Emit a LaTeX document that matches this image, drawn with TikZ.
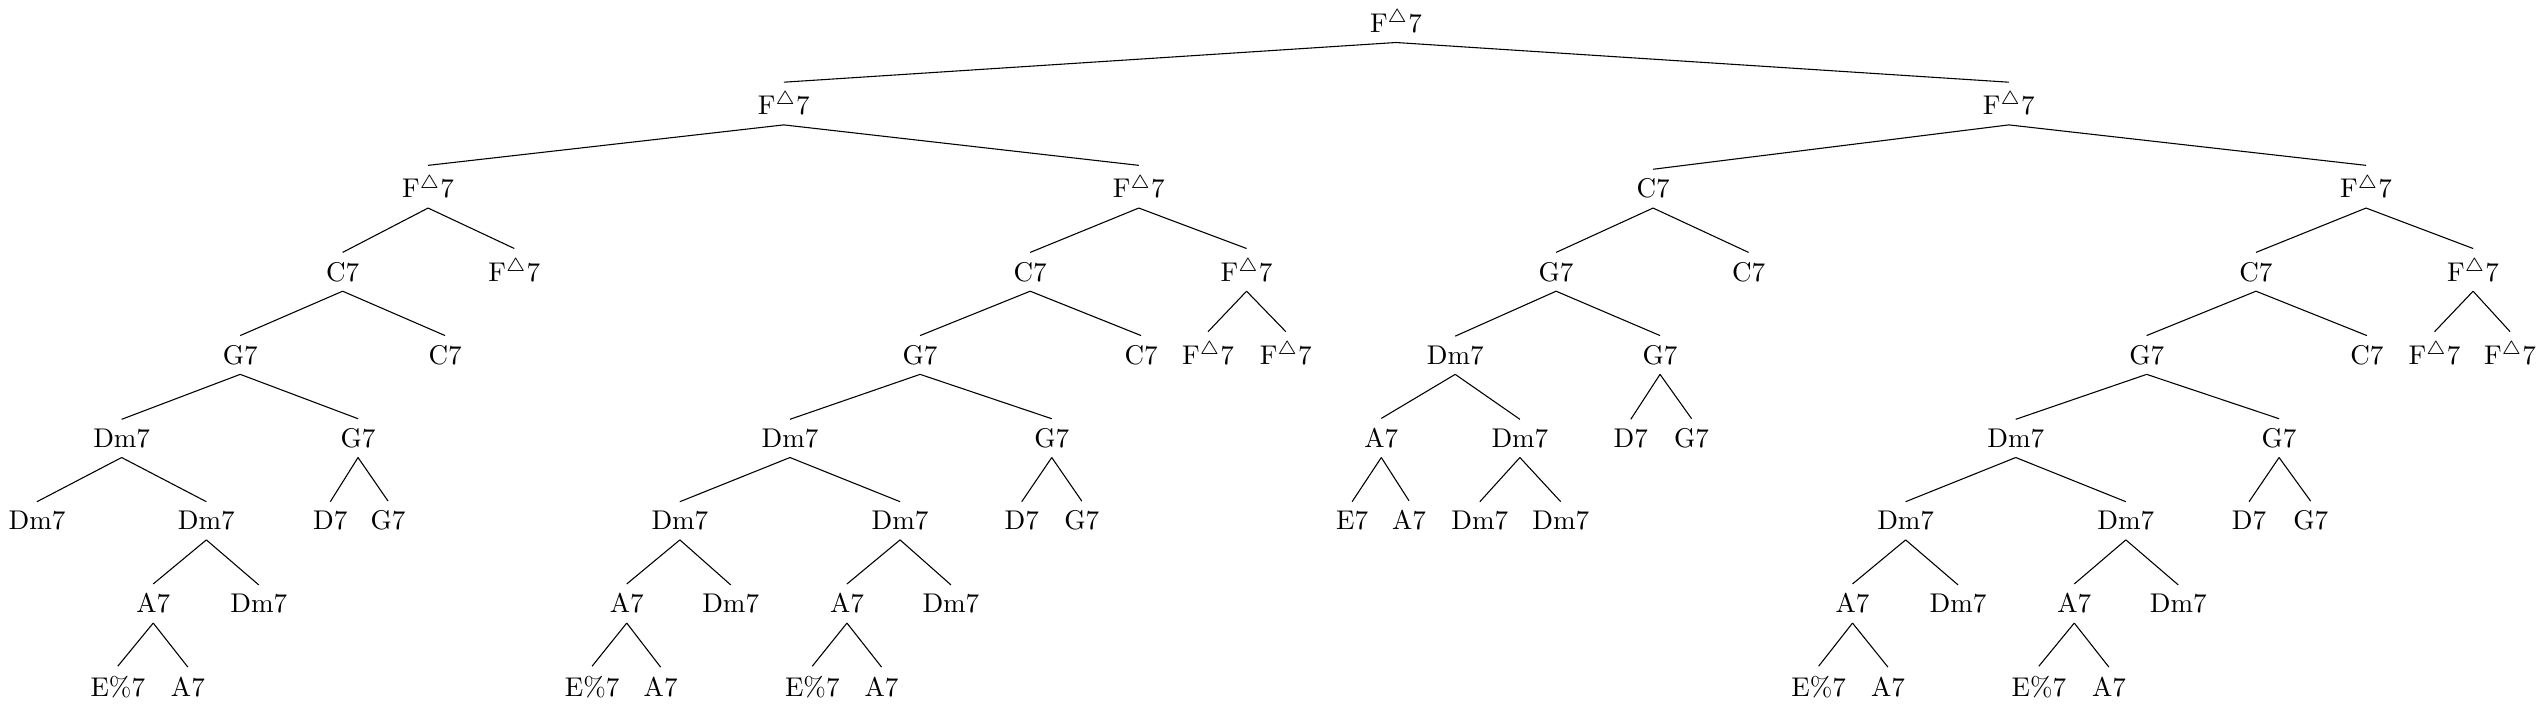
\documentclass[tikz,border=0pt]{standalone}
\usepackage{amsmath,amssymb}
\usepackage{tikz}
\newcommand{\Fmaj}{F$^{\triangle}$7}
\tikzset{chord/.style={anchor=base}}

\begin{document}
\begin{tikzpicture}
    \useasboundingbox (0cm, 0cm) rectangle (33.08cm, -9.195cm);

    % level 0 to 3
    \node (r) at (18.13cm, -0.42cm) [chord] {\Fmaj};
    \node (a1) at (10.18cm, -1.49cm) [chord] {\Fmaj};
    \node (a2) at (26.09cm, -1.49cm) [chord] {\Fmaj};
    \node (b1) at (5.56cm, -2.57cm) [chord] {\Fmaj};
    \node (b2) at (14.79cm, -2.57cm) [chord] {\Fmaj};
    \node (b3) at (21.47cm, -2.57cm) [chord] {C7};
    \node (b4) at (30.73cm, -2.57cm) [chord] {\Fmaj};
    \node (c1) at (4.45cm, -3.65cm) [chord] {C7};
    \node (c2) at (6.68cm, -3.65cm) [chord] {\Fmaj};
    \node (c3) at (13.38cm, -3.65cm) [chord] {C7};
    \node (c4) at (16.19cm, -3.65cm) [chord] {\Fmaj};
    \node (c5) at (20.21cm, -3.65cm) [chord] {G7};
    \node (c6) at (22.71cm, -3.65cm) [chord] {C7};
    \node (c7) at (29.30cm, -3.65cm) [chord] {C7};
    \node (c8) at (32.12cm, -3.65cm) [chord] {\Fmaj};

    % level 4
    \node (d1) at (3.12cm, -4.73cm) [chord] {G7};
    \node (d2) at (5.78cm, -4.73cm) [chord] {C7};
    \node (d3) at (11.95cm, -4.73cm) [chord] {G7};
    \node (d4) at (14.82cm, -4.73cm) [chord] {C7};
    \node (d5) at (15.69cm, -4.73cm) [chord] {\Fmaj};
    \node (d6) at (16.70cm, -4.73cm) [chord] {\Fmaj};
    \node (d7) at (18.90cm, -4.73cm) [chord] {Dm7};
    \node (d8) at (21.56cm, -4.73cm) [chord] {G7};
    \node (d9) at (27.88cm, -4.73cm) [chord] {G7};
    \node (d10) at (30.74cm, -4.73cm) [chord] {C7};
    \node (d11) at (31.62cm, -4.73cm) [chord] {\Fmaj};
    \node (d12) at (32.60cm, -4.73cm) [chord] {\Fmaj};

    % level 5
    \node (e1) at (1.58cm, -5.81cm) [chord] {Dm7};
    \node (e2) at (4.65cm, -5.81cm) [chord] {G7};
    \node (e3) at (10.26cm, -5.81cm) [chord] {Dm7};
    \node (e4) at (13.66cm, -5.81cm) [chord] {G7};
    \node (e5) at (17.94cm, -5.81cm) [chord] {A7};
    \node (e6) at (19.74cm, -5.81cm) [chord] {Dm7};
    \node (e7) at (21.18cm, -5.81cm) [chord] {D7};
    \node (e8) at (21.97cm, -5.81cm) [chord] {G7};
    \node (e9) at (26.18cm, -5.81cm) [chord] {Dm7};
    \node (e10) at (29.60cm, -5.81cm) [chord] {G7};

    % level 6
    \node (f1) at (0.48cm, -6.88cm) [chord] {Dm7};
    \node (f2) at (2.68cm, -6.88cm) [chord] {Dm7};
    \node (f3) at (4.29cm, -6.88cm) [chord] {D7};
    \node (f4) at (5.04cm, -6.88cm) [chord] {G7};
    \node (f5) at (8.83cm, -6.88cm) [chord] {Dm7};
    \node (f6) at (11.69cm, -6.88cm) [chord] {Dm7};
    \node (f7) at (13.27cm, -6.88cm) [chord] {D7};
    \node (f8) at (14.05cm, -6.88cm) [chord] {G7};
    \node (f9) at (17.56cm, -6.88cm) [chord] {E7};
    \node (f10) at (18.30cm, -6.88cm) [chord] {A7};
    \node (f11) at (19.22cm, -6.88cm) [chord] {Dm7};
    \node (f12) at (20.27cm, -6.88cm) [chord] {Dm7};
    \node (f13) at (24.75cm, -6.88cm) [chord] {Dm7};
    \node (f14) at (27.61cm, -6.88cm) [chord] {Dm7};
    \node (f15) at (29.21cm, -6.88cm) [chord] {D7};
    \node (f16) at (30.01cm, -6.88cm) [chord] {G7};

    % level 7
    \node (g1) at (1.99cm, -7.96cm) [chord] {A7};
    \node (g2) at (3.36cm, -7.96cm) [chord] {Dm7};
    \node (g3) at (8.14cm, -7.96cm) [chord] {A7};
    \node (g4) at (9.49cm, -7.96cm) [chord] {Dm7};
    \node (g5) at (11.00cm, -7.96cm) [chord] {A7};
    \node (g6) at (12.35cm, -7.96cm) [chord] {Dm7};
    \node (g7) at (24.06cm, -7.96cm) [chord] {A7};
    \node (g8) at (25.43cm, -7.96cm) [chord] {Dm7};
    \node (g9) at (26.94cm, -7.96cm) [chord] {A7};
    \node (g10) at (28.29cm, -7.96cm) [chord] {Dm7};

    % level 8
    \node (h1) at (1.53cm, -9.04cm) [chord] {E\%7};
    \node (h2) at (2.44cm, -9.04cm) [chord] {A7};
    \node (h3) at (7.69cm, -9.04cm) [chord] {E\%7};
    \node (h4) at (8.58cm, -9.04cm) [chord] {A7};
    \node (h5) at (10.55cm, -9.04cm) [chord] {E\%7};
    \node (h6) at (11.45cm, -9.04cm) [chord] {A7};
    \node (h7) at (23.62cm, -9.04cm) [chord] {E\%7};
    \node (h8) at (24.52cm, -9.04cm) [chord] {A7};
    \node (h9) at (26.48cm, -9.04cm) [chord] {E\%7};
    \node (h10) at (27.39cm, -9.04cm) [chord] {A7};

    \draw (r.south) edge (a1.north) edge (a2.north);
    \draw (a1.south) edge (b1.north) edge (b2.north);
    \draw (a2.south) edge (b3.north) edge (b4.north);
    \draw (b1.south) edge (c1.north) edge (c2.north);
    \draw (b2.south) edge (c3.north) edge (c4.north);
    \draw (b3.south) edge (c5.north) edge (c6.north);
    \draw (b4.south) edge (c7.north) edge (c8.north);
    \draw (c1.south) edge (d1.north) edge (d2.north);
    \draw (c3.south) edge (d3.north) edge (d4.north);
    \draw (c4.south) edge (d5.north) edge (d6.north);
    \draw (c5.south) edge (d7.north) edge (d8.north);
    \draw (c7.south) edge (d9.north) edge (d10.north);
    \draw (c8.south) edge (d11.north) edge (d12.north);
    \draw (d1.south) edge (e1.north) edge (e2.north);
    \draw (d3.south) edge (e3.north) edge (e4.north);
    \draw (d7.south) edge (e5.north) edge (e6.north);
    \draw (d8.south) edge (e7.north) edge (e8.north);
    \draw (d9.south) edge (e9.north) edge (e10.north);
    \draw (e1.south) edge (f1.north) edge (f2.north);
    \draw (e2.south) edge (f3.north) edge (f4.north);
    \draw (e3.south) edge (f5.north) edge (f6.north);
    \draw (e4.south) edge (f7.north) edge (f8.north);
    \draw (e5.south) edge (f9.north) edge (f10.north);
    \draw (e6.south) edge (f11.north) edge (f12.north);
    \draw (e9.south) edge (f13.north) edge (f14.north);
    \draw (e10.south) edge (f15.north) edge (f16.north);
    \draw (f2.south) edge (g1.north) edge (g2.north);
    \draw (f5.south) edge (g3.north) edge (g4.north);
    \draw (f6.south) edge (g5.north) edge (g6.north);
    \draw (f13.south) edge (g7.north) edge (g8.north);
    \draw (f14.south) edge (g9.north) edge (g10.north);
    \draw (g1.south) edge (h1.north) edge (h2.north);
    \draw (g3.south) edge (h3.north) edge (h4.north);
    \draw (g5.south) edge (h5.north) edge (h6.north);
    \draw (g7.south) edge (h7.north) edge (h8.north);
    \draw (g9.south) edge (h9.north) edge (h10.north);
\end{tikzpicture}
\end{document}
